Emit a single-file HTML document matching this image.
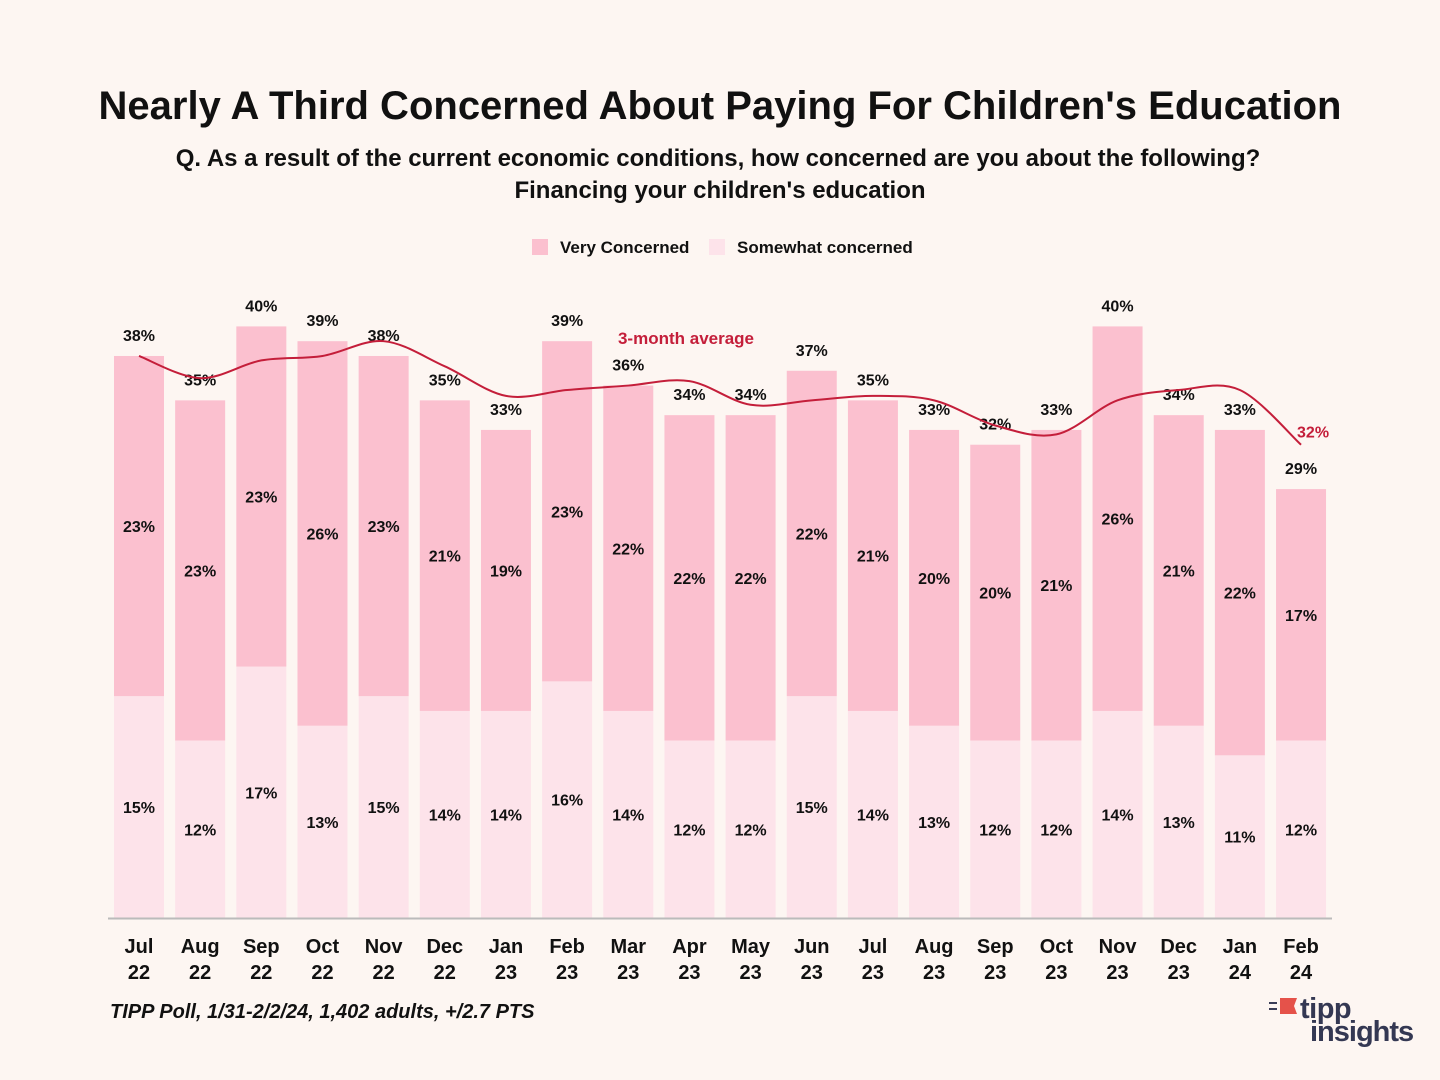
<!DOCTYPE html>
<html><head><meta charset="utf-8">
<style>
html,body{margin:0;padding:0;background:#fdf6f2;}
body{width:1440px;height:1080px;overflow:hidden;font-family:"Liberation Sans",sans-serif;}
</style></head>
<body>
<svg id="chart" width="1440" height="1080" xmlns="http://www.w3.org/2000/svg" style="position:absolute;left:0;top:0">
<rect width="1440" height="1080" fill="#fdf6f2"/>
<text x="720" y="119" text-anchor="middle" font-size="40" font-weight="bold" fill="#111">Nearly A Third Concerned About Paying For Children's Education</text>
<text x="718" y="166" text-anchor="middle" font-size="24" font-weight="bold" fill="#111">Q. As a result of the current economic conditions, how concerned are you about the following?</text>
<text x="720" y="198" text-anchor="middle" font-size="24" font-weight="bold" fill="#111">Financing your children's education</text>
<g>
<rect x="532" y="239" width="16" height="16" fill="#fbc0cf"/>
<text x="560" y="253" font-size="17" font-weight="bold" fill="#111">Very Concerned</text>
<rect x="709" y="239" width="16" height="16" fill="#fde3ea"/>
<text x="737" y="253" font-size="17" font-weight="bold" fill="#111">Somewhat concerned</text>
</g>
<g id="plot"></g>
<text x="110" y="1018" font-size="20" font-style="italic" font-weight="bold" fill="#111">TIPP Poll, 1/31-2/2/24, 1,402 adults, +/2.7 PTS</text>
<g>
<polygon points="1280,998 1297,998 1294,1006 1297,1014 1280,1014" fill="#e5524a"/>
<line x1="1269" y1="1003" x2="1277" y2="1003" stroke="#3a3d57" stroke-width="2"/>
<line x1="1269" y1="1009" x2="1277" y2="1009" stroke="#3a3d57" stroke-width="2"/>
<text x="1300" y="1018" font-size="29" font-weight="bold" fill="#343853" letter-spacing="-0.5">tipp</text>
<text x="1310" y="1041" font-size="29" font-weight="bold" fill="#343853" letter-spacing="-1">insights</text>
</g>
</svg>
<script>
const months=["Jul","Aug","Sep","Oct","Nov","Dec","Jan","Feb","Mar","Apr","May","Jun","Jul","Aug","Sep","Oct","Nov","Dec","Jan","Feb"];
const years=["22","22","22","22","22","22","23","23","23","23","23","23","23","23","23","23","23","23","24","24"];
const somewhat=[15,12,17,13,15,14,14,16,14,12,12,15,14,13,12,12,14,13,11,12];
const very=[23,23,23,26,23,21,19,23,22,22,22,22,21,20,20,21,26,21,22,17];
const totals=[38,35,40,39,38,35,33,39,36,34,34,37,35,33,32,33,40,34,33,29];
const avg3=[38,36.5,37.7,38,39,37.3,35.3,35.7,36,36.3,34.7,35,35.3,35,33.3,32.7,35,35.7,35.7,32];

const NS="http://www.w3.org/2000/svg";
const plot=document.getElementById('plot');
const base=918, ppu=14.79, x0=139, step=61.16, bw=50;
const X=i=>x0+i*step, Y=v=>base-v*ppu;
function mk(tag,attrs,txt){const e=document.createElementNS(NS,tag);for(const k in attrs)e.setAttribute(k,attrs[k]);if(txt!=null)e.textContent=txt;plot.appendChild(e);return e;}
months.forEach((m,i)=>{
  const x=X(i);
  let r=mk('rect',{x:x-bw/2,y:Y(somewhat[i]),width:bw,height:somewhat[i]*ppu,fill:'#fde3ea'});
  
  
  r=mk('rect',{x:x-bw/2,y:Y(somewhat[i]+very[i]),width:bw,height:very[i]*ppu,fill:'#fbc0cf'});
  
  
  let t=mk('text',{x:x,y:Y(somewhat[i]/2)+6,'text-anchor':'middle','font-size':16,'font-weight':'bold',fill:'#111'},somewhat[i]+'%');
  
  
  t=mk('text',{x:x,y:Y(somewhat[i]+very[i]/2)+6,'text-anchor':'middle','font-size':16,'font-weight':'bold',fill:'#111'},very[i]+'%');
  
  
  t=mk('text',{x:x,y:Y(totals[i])-15,'text-anchor':'middle','font-size':16,'font-weight':'bold',fill:'#111'},totals[i]+'%');
  
  
  t=mk('text',{x:x,y:953,'text-anchor':'middle','font-size':20,'font-weight':'bold',fill:'#111'},m);
  
  
  t=mk('text',{x:x,y:979,'text-anchor':'middle','font-size':20,'font-weight':'bold',fill:'#111'},years[i]);
  
  
});
const ax=mk('line',{x1:108,y1:base+0.5,x2:1332,y2:base+0.5,stroke:'#bbb','stroke-width':2});


const pts=avg3.map((v,i)=>[X(i),Y(v)]);
let d='M'+pts[0][0]+','+pts[0][1];
for(let i=0;i<pts.length-1;i++){
  const p0=pts[Math.max(0,i-1)],p1=pts[i],p2=pts[i+1],p3=pts[Math.min(pts.length-1,i+2)];
  const c1=[p1[0]+(p2[0]-p0[0])/6,p1[1]+(p2[1]-p0[1])/6];
  const c2=[p2[0]-(p3[0]-p1[0])/6,p2[1]-(p3[1]-p1[1])/6];
  d+=' C'+c1[0]+','+c1[1]+' '+c2[0]+','+c2[1]+' '+p2[0]+','+p2[1];
}
const line=mk('path',{d:d,fill:'none',stroke:'#c41e3a','stroke-width':2});


const la=mk('text',{x:686,y:344,'text-anchor':'middle','font-size':17,'font-weight':'bold',fill:'#c41e3a'},'3-month average');


const last=avg3.length-1;
const le=mk('text',{x:X(last)+12,y:Y(avg3[last])-7,'text-anchor':'middle','font-size':16,'font-weight':'bold',fill:'#c41e3a'},Math.round(avg3[last])+'%');


</script>
</body></html>
